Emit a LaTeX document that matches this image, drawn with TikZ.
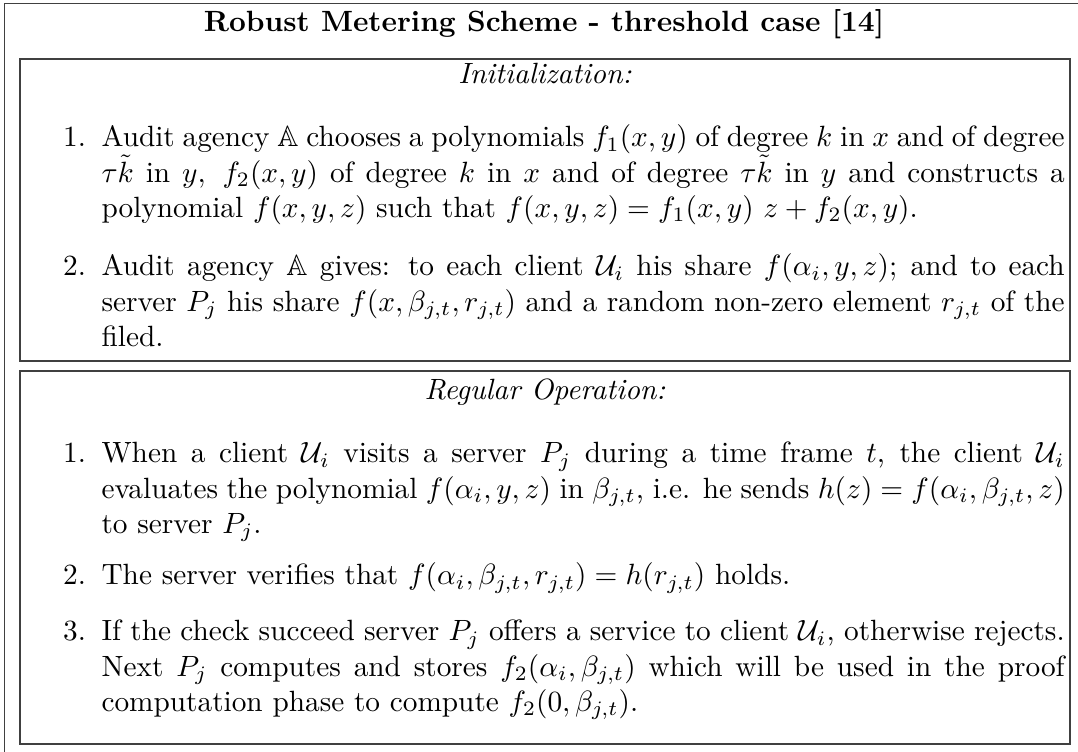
\documentclass[tikz,border=0pt]{standalone}
\usepackage{amsmath,amssymb}
\begin{document}
\begin{tikzpicture}[x=0.3413pt,y=-0.3413pt,
  frame/.style={draw=black!75,line width=0.6pt},
  para/.style={anchor=base west,inner sep=0pt,text width=328.7pt,align=justify},
  num/.style={anchor=base east,inner sep=0pt},
  head/.style={anchor=base,inner sep=0pt,font=\itshape},
  title/.style={anchor=base,inner sep=0pt,font=\bfseries}]
\useasboundingbox (0,0) rectangle (1078,752);
\clip (0,0) rectangle (1078,752);

% outer frame and the two panels
\draw[frame] (4.5,3.5) rectangle (1090,770);
\draw[frame] (20,59) rectangle (1070,361);
\draw[frame] (20,371) rectangle (1070,744);

\node[title] (ttl) at (544,32) {Robust Metering Scheme - threshold case [14]};

% Initialization panel
\node[head] (h1) at (545,84) {Initialization:};
\node[num] (n11) at (86.5,147) {1.};
\node[para] (p11) at (101,147) {Audit agency $\mathbb{A}$ chooses a polynomials $f_1(x,y)$ of degree $k$ in $x$ and of degree $\tau\tilde{k}$ in $y,~f_2(x,y)$ of degree $k$ in $x$ and of degree $\tau\tilde{k}$ in $y$ and constructs a polynomial $f(x,y,z)$ such that $f(x,y,z)=f_1(x,y)\ z+f_2(x,y)$.};
\node[num] (n12) at (86.5,276) {2.};
\node[para] (p12) at (101,276) {Audit agency $\mathbb{A}$ gives: to each client $\mathcal{U}_i$ his share $f(\alpha_i,y,z)$; and to each server $P_j$ his share $f(x,\beta_{j,t},r_{j,t})$ and a random non-zero element $r_{j,t}$ of the filed.};

% Regular operation panel
\node[head] (h2) at (545,400) {Regular Operation:};
\node[num] (n21) at (86.5,463) {1.};
\node[para] (p21) at (101,463) {When a client $\mathcal{U}_i$ visits a server $P_j$ during a time frame $t$, the client $\mathcal{U}_i$ evaluates the polynomial $f(\alpha_i,y,z)$ in $\beta_{j,t}$, i.e. he sends $h(z)=f(\alpha_i,\beta_{j,t},z)$ to server $P_j$.};
\node[num] (n22) at (86.5,585) {2.};
\node[para] (p22) at (101,585) {The server verifies that $f(\alpha_i,\beta_{j,t},r_{j,t})=h(r_{j,t})$ holds.};
\node[num] (n23) at (86.5,641) {3.};
\node[para] (p23) at (101,641) {If the check succeed server $P_j$ offers a service to client $\mathcal{U}_i$, otherwise rejects. Next $P_j$ computes and stores $f_2(\alpha_i,\beta_{j,t})$ which will be used in the proof computation phase to compute $f_2(0,\beta_{j,t})$.};
\end{tikzpicture}
\end{document}
